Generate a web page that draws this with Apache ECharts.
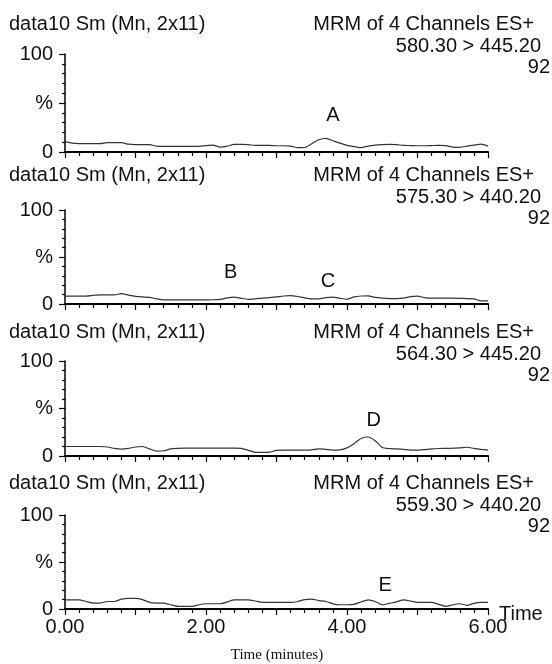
<!DOCTYPE html>
<html>
<head>
<meta charset="utf-8">
<script src="https://cdn.jsdelivr.net/npm/echarts@6/dist/echarts.min.js"></script>
<style>
  html, body { margin: 0; padding: 0; background: #fff; }
  #chart { width: 552px; height: 664px; }
</style>
</head>
<body>
<div id="chart"></div>
<script>
// sampling grid, minutes
var times = Array.from({ length: 61 }, function (_, i) { return +(i * 0.1).toFixed(1); });

// channel traces (%)
var trace580 = [10.5, 9, 8.5, 8.5, 8.5, 8.5, 9.5, 9.5, 9.5, 8, 7.5, 7.5, 7.5, 6, 5.8, 5.8, 5.8, 5.8, 5.8, 5.8,
    6.5, 7, 5, 6, 7.7, 7.7, 7.5, 6.7, 6.7, 6.7, 6.4, 6.4, 6, 4.4, 4.6, 8.5, 12.5, 14, 11.5, 9,
    6.8, 5.5, 4.4, 6, 7, 7.5, 7.8, 7.5, 6.8, 6.6, 6.4, 6.4, 6.6, 6.8, 6.5, 5, 4.8, 6, 7, 8, 6];
var trace575 = [8.4, 8.4, 8.4, 8.4, 9.2, 9.8, 9.8, 9.8, 11, 9.5, 8.2, 7.5, 7, 5.5, 4.4, 4.4, 4.4, 4.4, 4.4, 4.4,
    4.4, 4.5, 5, 6.5, 7.3, 6, 5, 5.5, 6.3, 6.8, 7.5, 8.5, 9, 8, 6.5, 5.5, 5.5, 6.8, 7.3, 6,
    5, 7.5, 8.5, 8.7, 7, 6.2, 5.8, 5.8, 6.2, 7.8, 8.4, 6.8, 6.2, 6.2, 6.2, 6.2, 6, 5.8, 5.5, 3.3, 3.3];
var trace564 = [10, 10, 10, 10, 10, 10, 9.5, 8, 7.2, 8, 9.5, 10, 7.5, 5.1, 5.5, 7.5, 8, 8.2, 8.2, 8.2,
    8.2, 8.2, 8.2, 8.2, 8.2, 8, 6, 3.8, 3.8, 4, 6, 6.2, 6.2, 6.2, 6.2, 6.5, 7.5, 7, 6.2, 6.5,
    8.6, 13, 18.5, 20, 16, 9, 7.8, 7.5, 7, 6.2, 6.2, 6.8, 7.5, 7.9, 8, 8.2, 8.5, 9.2, 8, 7, 6.2];
var trace559 = [9.8, 9.8, 9.8, 8, 6.3, 6.3, 8, 8, 10.5, 11.4, 11.4, 10, 7, 6.3, 6.3, 4.5, 2.8, 2.8, 2.8, 4.5,
    5.6, 5.6, 5.6, 7.5, 9.8, 9.8, 9.8, 8.5, 7, 7, 7, 7, 7, 8, 10, 10.5, 9, 8, 5.5, 4.5,
    4.5, 5, 7.5, 9.8, 8, 4.5, 6, 7.5, 9.8, 8.5, 7, 7, 7, 5, 2.8, 4.5, 5.6, 3.9, 6, 7, 7];

var traces = [trace580, trace575, trace564, trace559];
var transitions = ['580.30 > 445.20', '575.30 > 440.20', '564.30 > 445.20', '559.30 > 440.20'];
var counts = ['92', '92', '92', '92'];
var peakNames = [['A'], ['B', 'C'], ['D'], ['E']];
var peakPos = [[[3.8, 37]], [[2.35, 34], [3.73, 24]], [[4.38, 37]], [[4.54, 25]]];
var xTicks = [0, 2, 4, 6];

var chart = echarts.init(document.getElementById('chart'));

var FONT = 'Liberation Sans';
var gridTop = [54, 210, 361, 515];
var gridBottomY = [152, 304, 456, 609];
var headY = [24, 175, 332, 483];

var grids = [], xAxes = [], yAxes = [], series = [], texts = [];

for (var i = 0; i < 4; i++) {
    grids.push({ left: 65, right: 64, top: gridTop[i], height: gridBottomY[i] - gridTop[i] });

    var last = i === 3;
    xAxes.push({
        type: 'value', gridIndex: i, min: 0, max: 6, interval: 1,
        axisLine: { lineStyle: { color: '#000', width: 2 } },
        axisTick: { length: 6, lineStyle: { color: '#000', width: 1.2 } },
        minorTick: { show: true, splitNumber: 5, length: 4, lineStyle: { color: '#000', width: 1.2 } },
        splitLine: { show: false },
        axisLabel: {
            show: last, color: '#111', fontFamily: FONT, fontSize: 20, margin: 8,
            formatter: function (v) { return xTicks.indexOf(v) >= 0 ? v.toFixed(2) : ''; }
        }
    });

    yAxes.push({
        type: 'value', gridIndex: i, min: 0, max: 100, interval: 50,
        axisLine: { show: true, lineStyle: { color: '#000', width: 1.5 } },
        axisTick: { show: true, length: 6, lineStyle: { color: '#000', width: 1.2 } },
        minorTick: { show: true, splitNumber: 5, length: 3, lineStyle: { color: '#000', width: 1.2 } },
        splitLine: { show: false },
        axisLabel: {
            color: '#111', fontFamily: FONT, fontSize: 20, margin: 12,
            formatter: function (v) { return v === 50 ? '%' : String(v); }
        }
    });

    var pts = [];
    for (var k = 0; k < times.length; k++) pts.push([times[k], traces[i][k]]);

    series.push({
        type: 'line', xAxisIndex: i, yAxisIndex: i, data: pts,
        showSymbol: false, smooth: 0.2, animation: false,
        lineStyle: { color: '#333', width: 1.2 },
        markPoint: {
            symbol: 'circle', symbolSize: 0, animation: false,
            label: { show: true, position: 'inside', color: '#111', fontFamily: FONT, fontSize: 20,
                formatter: function (p) { return p.name; } },
            data: peakNames[i].map(function (n, j) { return { name: n, coord: peakPos[i][j] }; })
        }
    });

    var y0 = headY[i];
    var st = { fill: '#111', font: '20px "' + FONT + '"', textVerticalAlign: 'middle' };
    texts.push({ type: 'text', x: 9, y: y0, style: Object.assign({ text: 'data10 Sm (Mn, 2x11)', textAlign: 'left' }, st) });
    texts.push({ type: 'text', x: 534, y: y0, style: Object.assign({ text: 'MRM of 4 Channels ES+', textAlign: 'right' }, st) });
    texts.push({ type: 'text', x: 541, y: y0 + 22, style: Object.assign({ text: transitions[i], textAlign: 'right' }, st) });
    texts.push({ type: 'text', x: 550, y: y0 + 43, style: Object.assign({ text: counts[i], textAlign: 'right' }, st) });
}

texts.push({ type: 'text', x: 499, y: 614, style: { text: 'Time', fill: '#111',
    font: '20px "' + FONT + '"', textAlign: 'left', textVerticalAlign: 'middle' } });
texts.push({ type: 'text', x: 277, y: 655, style: { text: 'Time (minutes)', fill: '#111',
    font: '15px "Liberation Serif"', textAlign: 'center', textVerticalAlign: 'middle' } });

chart.setOption({
    animation: false,
    grid: grids,
    xAxis: xAxes,
    yAxis: yAxes,
    series: series,
    graphic: texts
});
</script>
</body>
</html>
